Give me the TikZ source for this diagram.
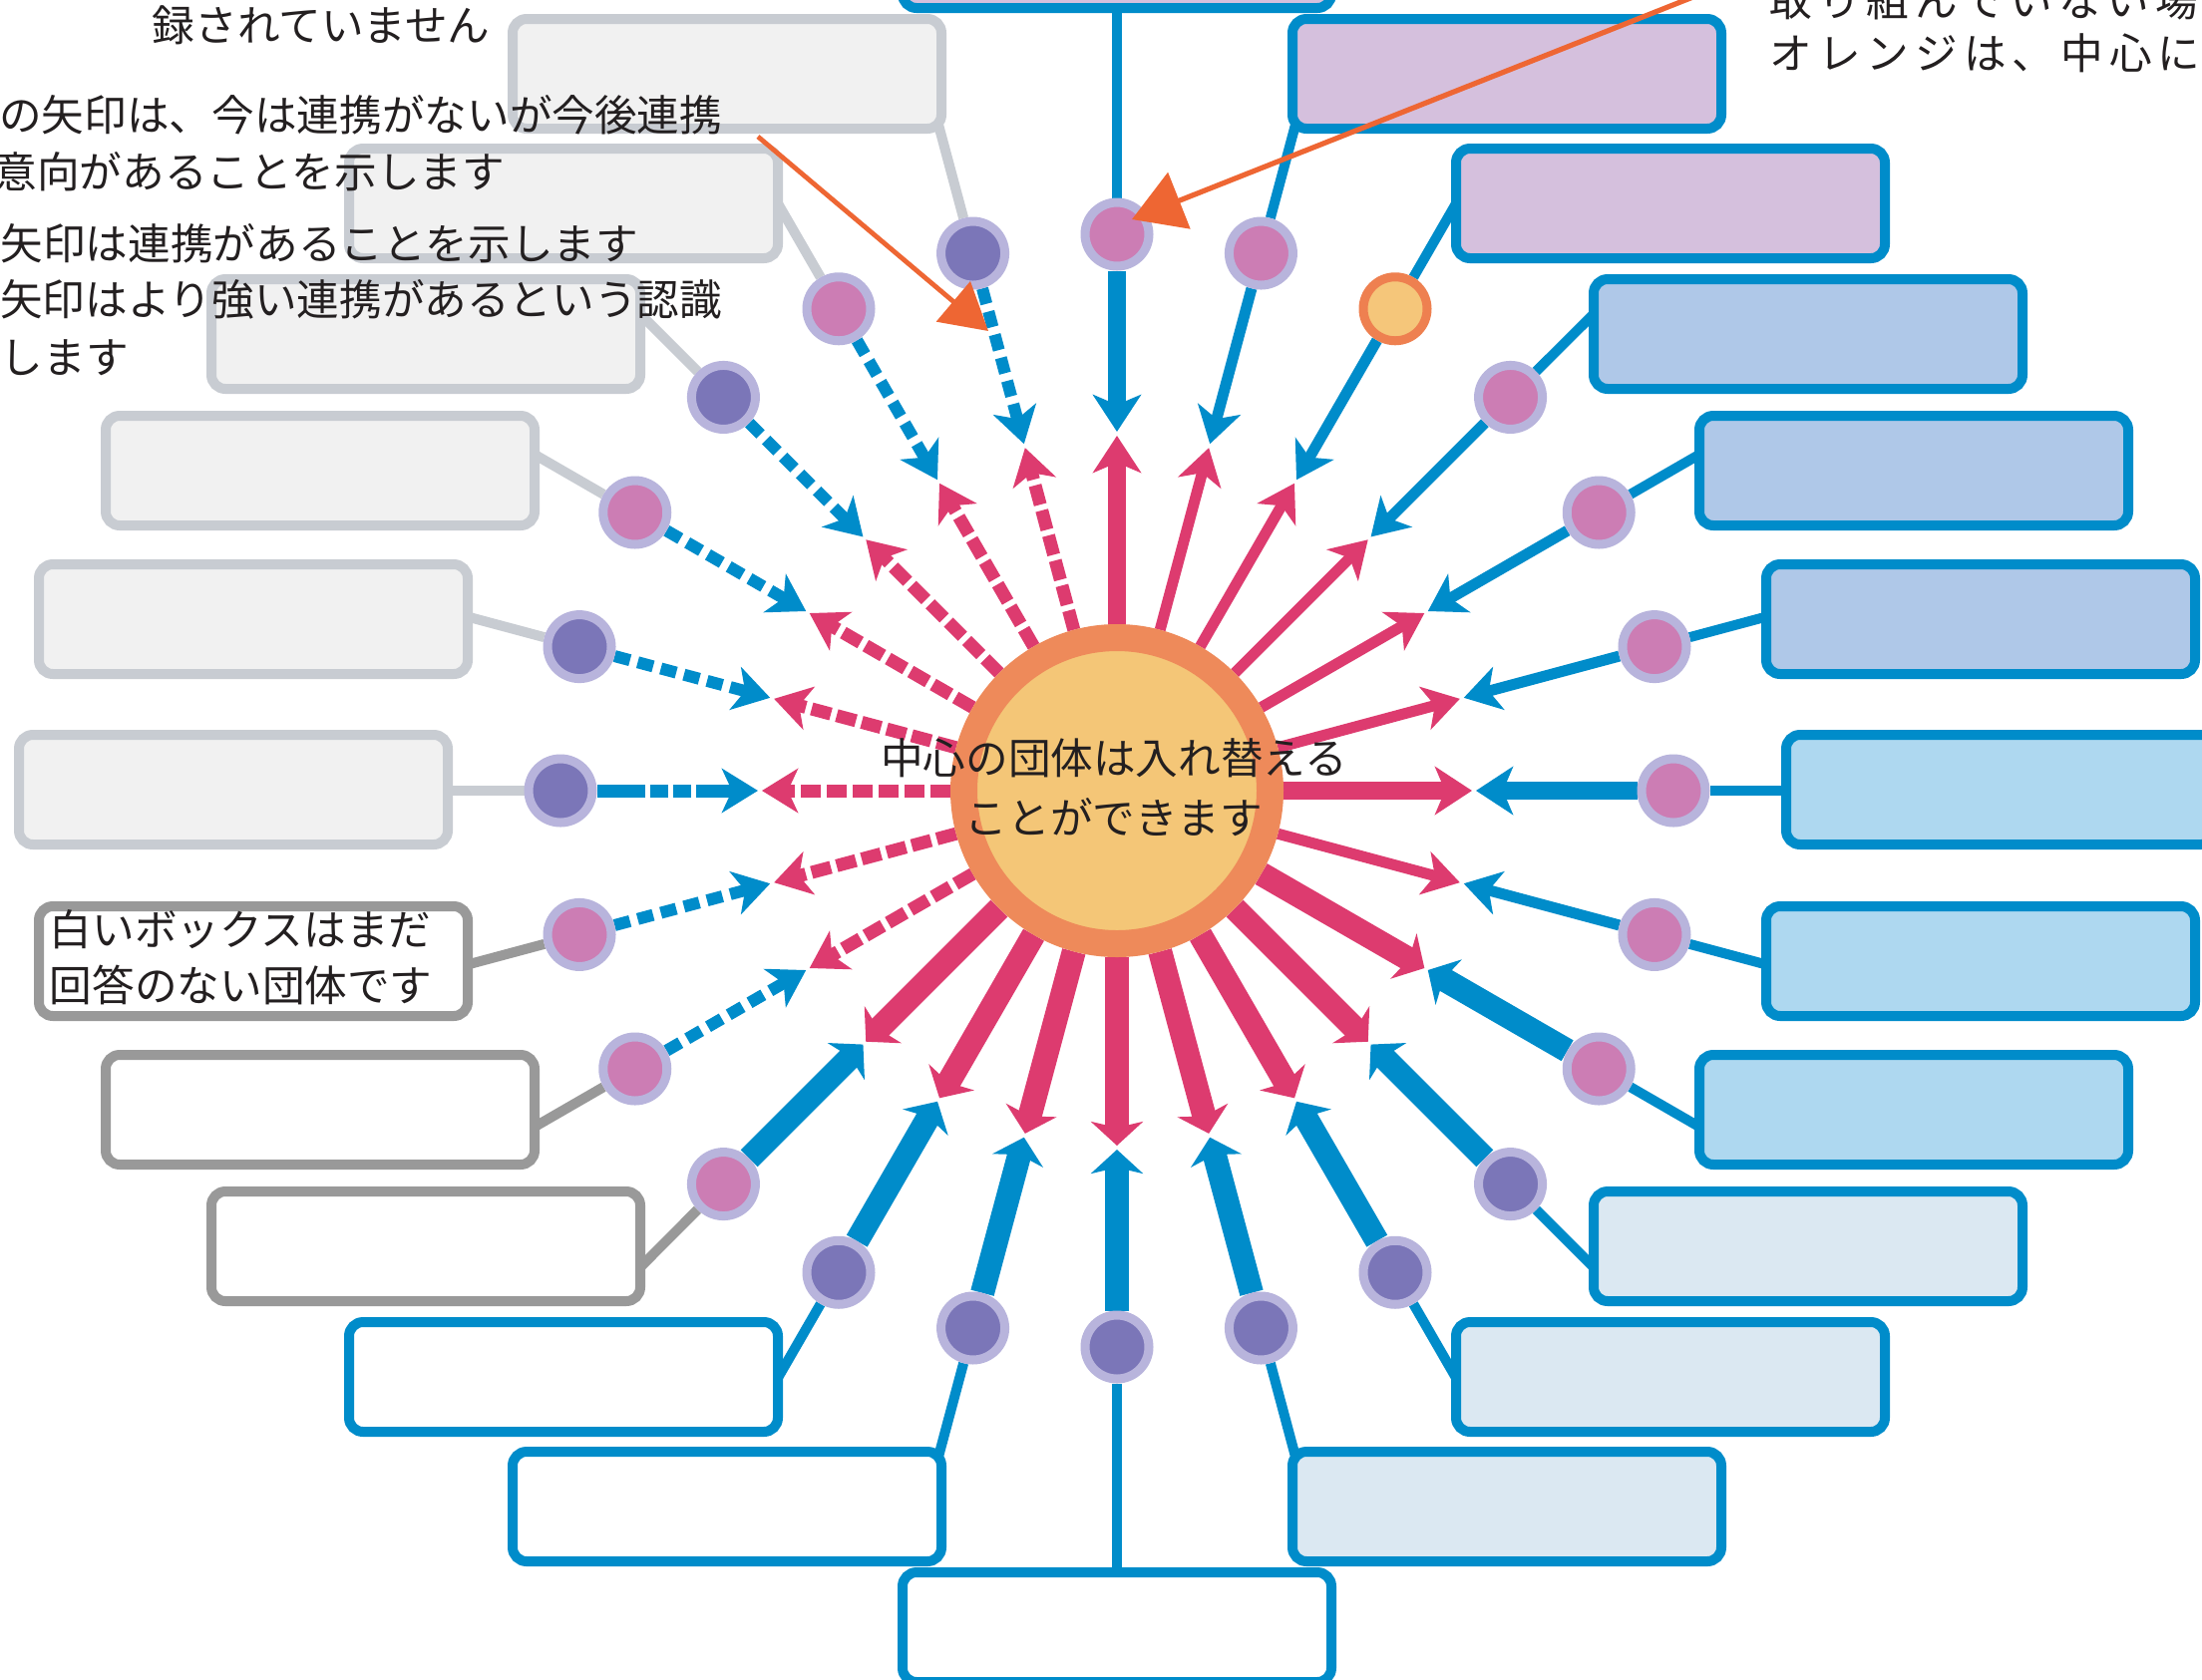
\documentclass[tikz,border=0pt]{standalone}
\usepackage{fontspec}
\newfontfamily\jp{Noto Sans CJK JP}
\usetikzlibrary{arrows.meta}
\definecolor{pinkc}{RGB}{221,59,111}
\definecolor{bluec}{RGB}{0,140,202}
\definecolor{purfill}{RGB}{213,192,221}
\definecolor{bfill}{RGB}{175,200,232}
\definecolor{lbfill}{RGB}{174,216,240}
\definecolor{vlfill}{RGB}{219,232,242}
\definecolor{grayb}{RGB}{153,153,153}
\definecolor{lgfill}{RGB}{241,241,241}
\definecolor{lgb}{RGB}{200,204,210}
\definecolor{ringc}{RGB}{184,180,220}
\definecolor{dpinkc}{RGB}{204,125,180}
\definecolor{dpurc}{RGB}{123,118,184}
\definecolor{oring}{RGB}{238,128,80}
\definecolor{ofill}{RGB}{245,198,122}
\definecolor{cring}{RGB}{238,138,90}
\definecolor{cfill}{RGB}{244,198,119}
\definecolor{oarrow}{RGB}{238,102,51}
\definecolor{txt}{RGB}{35,31,32}
\pgfdeclarelayer{bg}\pgfdeclarelayer{conn}\pgfdeclarelayer{boxes}\pgfdeclarelayer{arr}\pgfdeclarelayer{top}
\pgfsetlayers{bg,conn,boxes,arr,main,top}
\tikzset{
  orgbox/.style={rectangle, rounded corners=3.5pt, minimum width=107.5pt, minimum height=27.5pt, line width=2.5pt, inner sep=0pt},
  dot/.style={circle, minimum size=16pt, inner sep=0pt, line width=2.25pt, draw=ringc},
  dpk/.style={fill=dpinkc},
  dpu/.style={fill=dpurc},
  dor/.style={fill=ofill, draw=oring},
  tipthin/.style={-{Stealth[length=9pt,width=11pt,inset=2.5pt]}},
  tipmed/.style={-{Stealth[length=9.25pt,width=12pt,inset=2.5pt]}},
  tipthick/.style={-{Stealth[length=6pt,width=13pt,inset=1.5pt]}},
  pthin/.style={draw=pinkc, line width=2.75pt, tipthin},
  pmed/.style={draw=pinkc, line width=4.5pt, tipmed},
  pthick/.style={draw=pinkc, line width=6pt, tipthick},
  pdash/.style={draw=pinkc, line width=3.25pt, dash pattern=on 5pt off 1.5pt, tipthin},
  bthin/.style={draw=bluec, line width=2.75pt, tipthin},
  bmed/.style={draw=bluec, line width=4.5pt, tipmed},
  bthick/.style={draw=bluec, line width=6pt, tipthick},
  bdash/.style={draw=bluec, line width=3pt, dash pattern=on 4pt off 2pt, tipthin},
  bdd/.style={draw=bluec, line width=3.25pt, dash pattern=on 12pt off 1.25pt on 4.5pt off 1.25pt on 4.5pt off 1.25pt, tipthin},
  lt/.style={font=\jp\fontsize{10.66pt}{14pt}\selectfont, text=txt, inner sep=0pt},
  oarr/.style={draw=oarrow, line width=1.3pt},
}
\begin{document}
\begin{tikzpicture}[x=0.25pt,y=-0.25pt]
\useasboundingbox (0,0) rectangle (2208,1684);
\clip (0,0) rectangle (2208,1684);
\begin{pgfonlayer}{bg}
\fill[white] (0,0) rectangle (2208,1684);
\end{pgfonlayer}
\node[circle, minimum size=76.75pt, inner sep=0pt, line width=6.75pt, draw=cring, fill=cfill] (circ) at (1120,793) {};
\foreach \k/\cxb/\cyb/\bfc/\bdc/\ccc/\dst/\ps/\bs/\re in {
 0/1120/-47/purfill/bluec/bluec/dpk/pmed/bmed/800,
 1/1511/74/purfill/bluec/bluec/dpk/pthin/bthin/700,
 2/1675/204/purfill/bluec/bluec/dor/pthin/bthin/700,
 3/1813/335/bfill/bluec/bluec/dpk/pthin/bthin/700,
 4/1919/472/bfill/bluec/bluec/dpk/pthin/bthin/700,
 5/1986/621/bfill/bluec/bluec/dpk/pthin/bthin/700,
 6/2006/792/lbfill/bluec/bluec/dpk/pmed/bmed/700,
 7/1986/964/lbfill/bluec/bluec/dpk/pthin/bthin/700,
 8/1919/1113/lbfill/bluec/bluec/dpk/pthick/bthick/700,
 9/1813/1250/vlfill/bluec/bluec/dpu/pthick/bthick/700,
 10/1675/1381/vlfill/bluec/bluec/dpu/pthick/bthick/700,
 11/1511/1511/vlfill/bluec/bluec/dpu/pthick/bthick/700,
 12/1120/1632/white/bluec/bluec/dpu/pthick/bthick/800,
 13/729/1511/white/bluec/bluec/dpu/pthick/bthick/700,
 14/565/1381/white/bluec/bluec/dpu/pthick/bthick/700,
 15/427/1250/white/grayb/grayb/dpk/pthick/bthick/700,
 16/321/1113/white/grayb/grayb/dpk/pdash/bdash/700,
 17/254/964/white/grayb/grayb/dpk/pdash/bdash/700,
 18/234/792/lgfill/lgb/lgb/dpu/pdash/bdd/700,
 19/254/621/lgfill/lgb/lgb/dpu/pdash/bdash/700,
 20/321/472/lgfill/lgb/lgb/dpk/pdash/bdash/700,
 21/427/335/lgfill/lgb/lgb/dpu/pdash/bdash/700,
 22/565/204/lgfill/lgb/lgb/dpk/pdash/bdash/700,
 23/729/74/lgfill/lgb/lgb/dpu/pdash/bdash/700}{
  \pgfmathsetmacro\ang{90-15*\k}
  \pgfmathsetmacro\ca{cos(\ang)}
  \pgfmathsetmacro\sa{sin(\ang)}
  \node[dot,\dst] (dot\k) at ({1120+558*\ca},{793-558*\sa}) {};
  \coordinate (m\k) at ({1120+360*\ca},{793-360*\sa});
  \coordinate (q\k) at ({1120+356*\ca},{793-356*\sa});
  \coordinate (e\k) at ({1120+\re*\ca},{793-\re*\sa});
  \begin{pgfonlayer}{boxes}
    \node[orgbox, fill=\bfc, draw=\bdc] (box\k) at (\cxb,\cyb) {};
  \end{pgfonlayer}
  \begin{pgfonlayer}{conn}
    \draw[draw=\ccc, line width=2.5pt] (dot\k) -- (e\k);
  \end{pgfonlayer}
  \begin{pgfonlayer}{arr}
    \draw[\ps] (circ) -- (q\k);
    \draw[\bs] (dot\k) -- (m\k);
  \end{pgfonlayer}
}
\begin{pgfonlayer}{top}
\node[lt] (ct) at (1117,794) {\fontsize{10.66pt}{15pt}\selectfont\begin{tabular}{@{}c@{}}中心の団体は入れ替える\\ことができます\end{tabular}};
\node[lt, anchor=west] (bt) at (49,965) {\fontsize{10.66pt}{14pt}\selectfont\begin{tabular}{@{}l@{}}白いボックスはまだ\\回答のない団体です\end{tabular}};
\node[lt, anchor=west] (t1) at (152,25) {録されていません};
\node[lt, anchor=east] (t2) at (725,115) {の矢印は、今は連携がないが今後連携};
\node[lt, anchor=east] (t3) at (507,172) {意向があることを示します};
\node[lt, anchor=east] (t4) at (641,244) {矢印は連携があることを示します};
\node[lt, anchor=east] (t5) at (725,300) {矢印はより強い連携があるという認識};
\node[lt, anchor=west] (t6) at (0,359) {します};
\node[lt, anchor=west] (t7) at (1774,0) {\addfontfeature{LetterSpace=14}取り組んでいない場合};
\node[lt, anchor=west] (t8) at (1774,53) {\addfontfeature{LetterSpace=14}オレンジは、中心にい};
\coordinate (o1a) at (1791,-40);
\coordinate (o1b) at (1135,220);
\draw[oarr, -{Triangle[length=12.75pt,width=15pt]}] (o1a) -- (o1b);
\coordinate (o2a) at (760,137);
\coordinate (o2b) at (991,332);
\draw[oarr, line width=1.2pt, -{Triangle[length=11.5pt,width=13pt]}] (o2a) -- (o2b);
\end{pgfonlayer}
\end{tikzpicture}
\end{document}
